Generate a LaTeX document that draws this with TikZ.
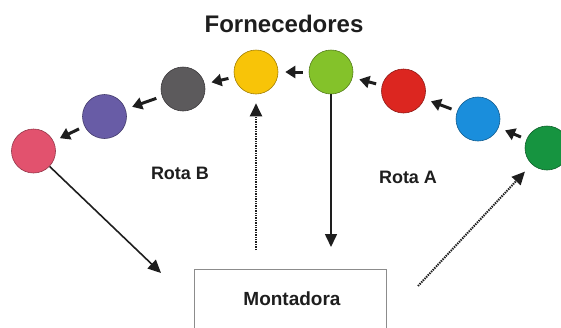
\documentclass[tikz,border=0pt]{standalone}
\usepackage{fontspec}
\setmainfont{Liberation Sans}
\usetikzlibrary{arrows.meta}
\definecolor{cpink}{RGB}{226,82,110}
\definecolor{cpurple}{RGB}{104,92,166}
\definecolor{cgray}{RGB}{92,90,92}
\definecolor{cyellow}{RGB}{248,196,8}
\definecolor{clgreen}{RGB}{132,194,42}
\definecolor{cred}{RGB}{220,38,32}
\definecolor{cblue}{RGB}{26,142,220}
\definecolor{cdgreen}{RGB}{22,148,64}
\definecolor{boxgray}{RGB}{140,140,140}
\definecolor{ink}{RGB}{30,30,30}
\tikzset{
  supplier/.style={circle, minimum size=44pt, inner sep=0pt, fill=#1, draw=#1!65!black, line width=0.6pt},
  sarrow/.style={ink, line width=3pt, -{Triangle[length=10pt,width=12pt]}, shorten <=6pt, shorten >=7pt},
  mainarrow/.style={ink, line width=1.6pt, -{Triangle[length=13pt,width=12pt]}},
  dotarrow/.style={ink, line width=2pt, dash pattern=on 1.4pt off 1pt, -{Triangle[length=13pt,width=12pt]}},
  lbl/.style={font=\bfseries\fontsize{18}{20}\selectfont, text=ink}
}
\begin{document}
\begin{tikzpicture}[x=1pt,y=-1pt]
\useasboundingbox (0,0) rectangle (561,327);
\begin{scope}
\clip (0,0) rectangle (561,327);
\node[font=\bfseries\fontsize{24}{28}\selectfont, text=ink] (title) at (284,24) {Fornecedores};
\node[supplier=cpink] (pink) at (33.5,151) {};
\node[supplier=cpurple] (purple) at (104.5,116.5) {};
\node[supplier=cgray] (gray) at (183,89) {};
\node[supplier=cyellow] (yellow) at (256,72) {};
\node[supplier=clgreen] (lgreen) at (331,72) {};
\node[supplier=cred] (red) at (403.5,91) {};
\node[supplier=cblue] (blue) at (478,119) {};
\node[supplier=cdgreen] (dgreen) at (547,148) {};
\draw[sarrow] (dgreen) -- (blue);
\draw[sarrow] (blue) -- (red);
\draw[sarrow] (red) -- (lgreen);
\draw[sarrow] (lgreen) -- (yellow);
\draw[sarrow] (yellow) -- (gray);
\draw[sarrow] (gray) -- (purple);
\draw[sarrow] (purple) -- (pink);
\node[lbl] (rotab) at (180,173) {Rota B};
\node[lbl] (rotaa) at (408,177) {Rota A};
\node[draw=boxgray, line width=1pt, minimum width=192pt, minimum height=100pt, inner sep=0pt] (box) at (290,319) {};
\node[font=\bfseries\fontsize{19}{22}\selectfont, text=ink] (mont) at (292,299) {Montadora};
\coordinate (pinktip) at (161,273);
\coordinate (ytail) at (256,250);
\coordinate (gtip) at (331,247);
\coordinate (dtail) at (418,286);
\draw[mainarrow] (pink) -- (pinktip);
\draw[dotarrow, shorten >=9pt] (ytail) -- (yellow.south);
\draw[mainarrow] (lgreen.south) -- (gtip);
\draw[dotarrow, shorten >=10pt] (dtail) -- (dgreen);
\end{scope}
\end{tikzpicture}
\end{document}
